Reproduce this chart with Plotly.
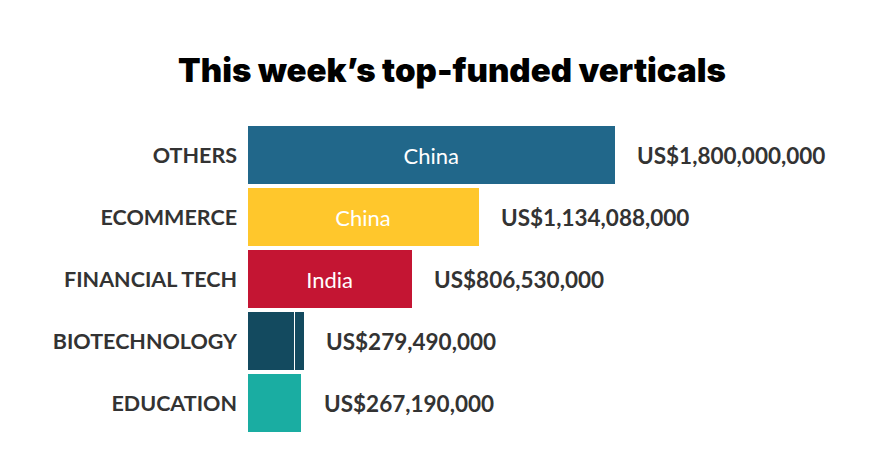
import plotly.graph_objects as go

# top-funded verticals, values in US$
verticals = ['OTHERS', 'ECOMMERCE', 'FINANCIAL TECH', 'BIOTECHNOLOGY', 'EDUCATION']
totals = [1800000000, 1134088000, 806530000, 279490000, 267190000]
bar_colors = ['#21678a', '#ffc72c', '#c41533', '#134a5f', '#1aada2']
countries = ['China', 'China', 'India', '', '']

# biotechnology is split into two deals
biotech_parts = [233000000, 46490000]

fig = go.Figure()

main_vals = list(totals)
main_vals[3] = biotech_parts[0]

fig.add_trace(go.Bar(
    y=verticals, x=main_vals, orientation='h',
    marker=dict(color=bar_colors, line=dict(color='white', width=1)),
    text=countries, textposition='inside', insidetextanchor='middle',
    textfont=dict(family='Lato', size=22, color='white'),
    hoverinfo='skip', showlegend=False,
))
fig.add_trace(go.Bar(
    y=[verticals[3]], x=[biotech_parts[1]], orientation='h',
    marker=dict(color=bar_colors[3], line=dict(color='white', width=1)),
    hoverinfo='skip', showlegend=False,
))

for cat, tot in zip(verticals, totals):
    fig.add_annotation(
        x=tot, y=cat, text='US${:,}'.format(tot), showarrow=False,
        xanchor='left', xshift=20,
        font=dict(family='Lato', size=22.5, color='#333333', weight='bold'),
    )

fig.update_layout(
    width=888, height=470,
    barmode='stack', bargap=0.06,
    paper_bgcolor='white', plot_bgcolor='white',
    margin=dict(l=239, r=40, t=116, b=44),
    title=dict(text="This week’s top-funded verticals", x=0.5, xanchor='center',
               xref='container', y=0.868, yanchor='middle',
               font=dict(family='Inter', size=33, color='#000000', weight=900)),
    xaxis=dict(range=[0, 2.975e9], visible=False, fixedrange=True),
    yaxis=dict(autorange='reversed', showgrid=False, zeroline=False, showline=False,
               ticks='', ticklabelstandoff=9,
               tickfont=dict(family='Lato', size=21.5, color='#333333', weight='bold')),
)

fig.write_html("out.html")
